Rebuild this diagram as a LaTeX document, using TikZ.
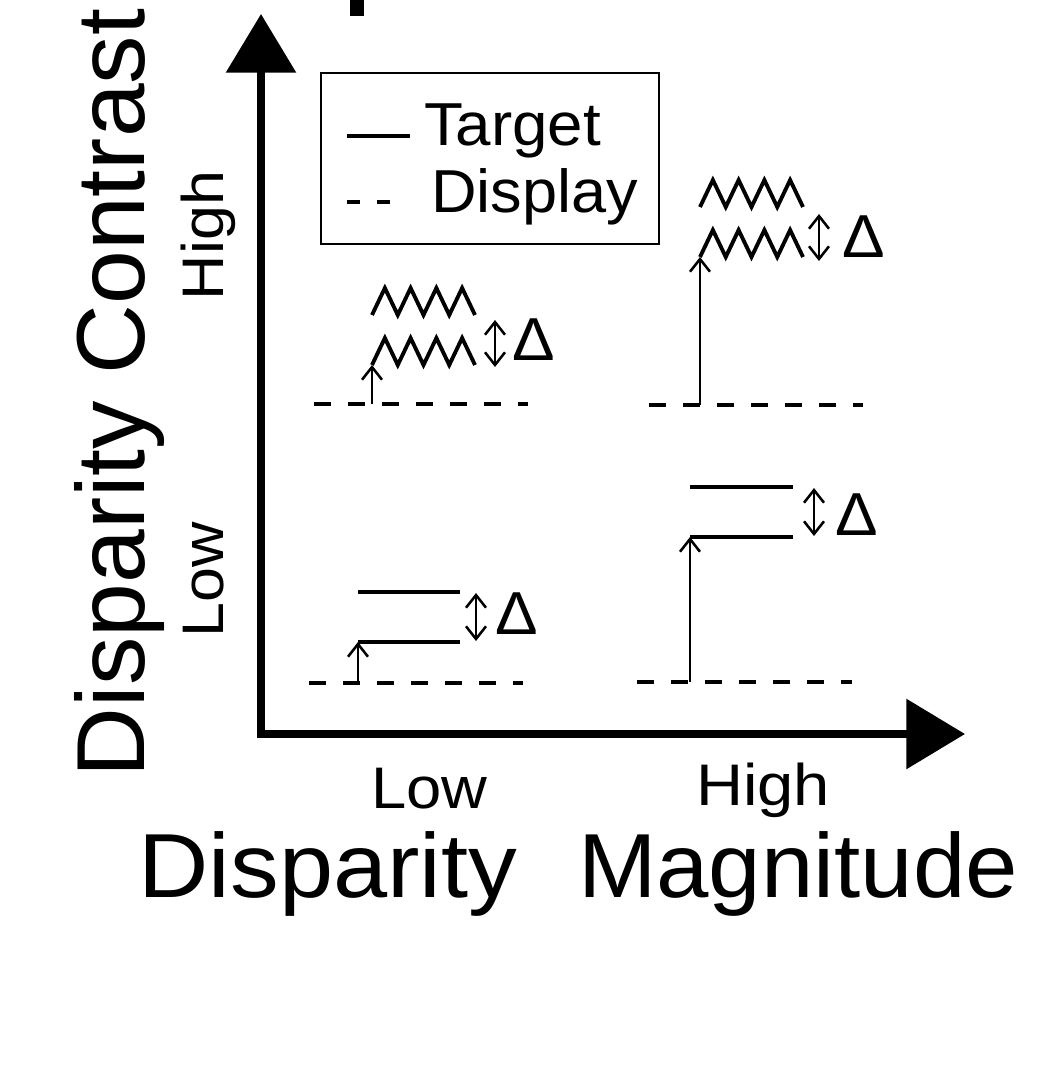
\documentclass[tikz,border=0pt]{standalone}
\usepackage{fontspec}
\setmainfont{Liberation Sans}
\usetikzlibrary{arrows.meta}

% font sizes (1 unit = 0.75pt)
\newcommand\fVert{\fontsize{72.5}{74}\selectfont}
\newcommand\fAxis{\fontsize{68.25}{70}\selectfont}
\newcommand\fTick{\fontsize{44}{46}\selectfont}
\newcommand\fLegend{\fontsize{45.5}{47}\selectfont}
\newcommand\fDelta{\fontsize{45.5}{47}\selectfont}

\tikzset{
  lbl/.style={inner sep=0pt, outer sep=0pt, anchor=base west},
  axisline/.style={line width=5.6pt,
    {Triangle[length=44pt,width=51.5pt]}-{Triangle[length=44pt,width=51.5pt]}},
  targetline/.style={line width=3pt},
  displayline/.style={line width=3pt, dash pattern=on 12.75pt off 12.75pt},
  zzline/.style={line width=2.9pt},
  shiftarrow/.style={line width=1.9pt, -{Straight Barb[length=9.5pt,width=15pt]}},
  deltaarrow/.style={line width=1.9pt,
    {Straight Barb[length=9.5pt,width=15pt]}-{Straight Barb[length=9.5pt,width=15pt]}},
}

% zigzag: four peaks, 103 wide and 27 high, starting at #1
\newcommand\zigzagline[1]{%
  \draw[zzline] (#1) -- ++(12.875,-27) -- ++(12.875,27) -- ++(12.875,-27) -- ++(12.875,27)
    -- ++(12.875,-27) -- ++(12.875,27) -- ++(12.875,-27) -- ++(12.875,27);}

\begin{document}
\begin{tikzpicture}[x=0.75pt, y=-0.75pt]
\useasboundingbox (0,0) rectangle (1046,1065);

% axes
\coordinate (ytip) at (261,14);
\coordinate (origin) at (261,734);
\coordinate (xtip) at (965,734);
\draw[axisline] (ytip) -- (origin) -- (xtip);

% fragment at the top edge
\fill (350,0) rectangle (364,15.7);

% axis labels
\node[lbl, rotate=90] (ytitle) at (144,777) {\fVert Disparity Contrast};
\node[lbl, rotate=90] (yhigh) at (223,300) {\fTick\scalebox{1.07}[1]{High}};
\node[lbl, rotate=90] (ylow) at (223,637) {\fTick\scalebox{1.07}[1]{Low}};
\node[lbl] (xlow) at (371.5,808) {\fTick\scalebox{1.08}[1]{Low}};
\node[lbl] (xhigh) at (696,805) {\fTick\scalebox{1.11}[1]{High}};
\node[lbl] (xtitleA) at (138.5,897) {\fAxis\scalebox{1.07}[1]{Disparity}};
\node[lbl] (xtitleB) at (578,897) {\fAxis\scalebox{1.035}[1]{Magnitude}};

% legend
\draw[line width=2pt] (321,73) rectangle (659,244);
\draw[line width=2.4pt] (347,136) -- (410,136);
\draw[line width=2.4pt, dash pattern=on 9.75pt off 12.75pt] (347,202) -- (390,202);
\node[lbl] (legT) at (424,145) {\fLegend\scalebox{1.05}[1]{Target}};
\node[lbl] (legD) at (431,212) {\fLegend\scalebox{1.04}[1]{Display}};

% low magnitude, high contrast
\draw[displayline] (314,404) -- (528,404);
\coordinate (tlD) at (372,404);
\coordinate (tlT) at (372,365);
\draw[shiftarrow] (tlD) -- (tlT);
\zigzagline{372,365}
\zigzagline{372,315}
\coordinate (tlA) at (495,320);
\coordinate (tlB) at (495,367);
\draw[deltaarrow] (tlA) -- (tlB);
\node[lbl] (tlDelta) at (512,360) {\fDelta\scalebox{1.05}[1]{Δ}};

% high magnitude, high contrast
\draw[displayline] (649,405) -- (863,405);
\coordinate (trD) at (700,405);
\coordinate (trT) at (700,257);
\draw[shiftarrow] (trD) -- (trT);
\zigzagline{700,257}
\zigzagline{700,207}
\coordinate (trA) at (819,214);
\coordinate (trB) at (819,261);
\draw[deltaarrow] (trA) -- (trB);
\node[lbl] (trDelta) at (842,257) {\fDelta\scalebox{1.05}[1]{Δ}};

% low magnitude, low contrast
\draw[displayline] (309,683) -- (523,683);
\coordinate (blD) at (358,683);
\coordinate (blT) at (358,642);
\draw[shiftarrow] (blD) -- (blT);
\draw[targetline] (358,642) -- (460,642);
\draw[targetline] (358,592) -- (460,592);
\coordinate (blA) at (476,593);
\coordinate (blB) at (476,641);
\draw[deltaarrow] (blA) -- (blB);
\node[lbl] (blDelta) at (495,634) {\fDelta\scalebox{1.05}[1]{Δ}};

% high magnitude, low contrast
\draw[displayline] (637,682) -- (852,682);
\coordinate (brD) at (690,682);
\coordinate (brT) at (690,537);
\draw[shiftarrow] (brD) -- (brT);
\draw[targetline] (690,537) -- (793,537);
\draw[targetline] (690,487) -- (793,487);
\coordinate (brA) at (814,488);
\coordinate (brB) at (814,536);
\draw[deltaarrow] (brA) -- (brB);
\node[lbl] (brDelta) at (835,535) {\fDelta\scalebox{1.05}[1]{Δ}};
\end{tikzpicture}
\end{document}
